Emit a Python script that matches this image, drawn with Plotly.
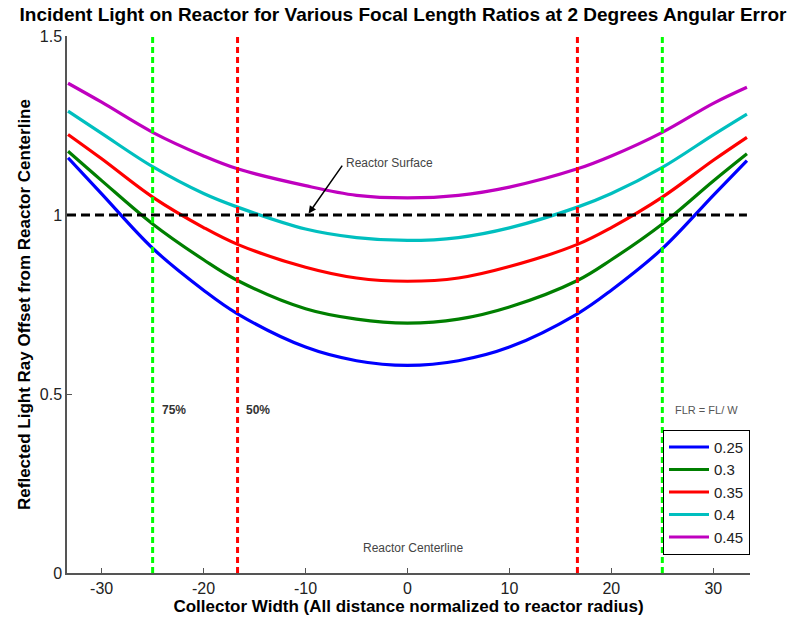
import plotly.graph_objects as go

x_pos = [-33.3, -30, -25, -20, -16.67, -10, -5, 0, 5, 10, 16.67, 20, 25, 30, 33.3]
flr_labels = ["0.25", "0.3", "0.35", "0.4", "0.45"]
y_025 = [1.160, 1.059, 0.907, 0.790, 0.724, 0.631, 0.593, 0.580, 0.593, 0.631, 0.724, 0.790, 0.906, 1.055, 1.152]
y_030 = [1.178, 1.096, 0.975, 0.875, 0.817, 0.738, 0.709, 0.698, 0.709, 0.743, 0.817, 0.875, 0.975, 1.095, 1.171]
y_035 = [1.225, 1.157, 1.050, 0.965, 0.918, 0.854, 0.824, 0.815, 0.824, 0.856, 0.918, 0.965, 1.050, 1.153, 1.217]
y_040 = [1.290, 1.228, 1.135, 1.060, 1.022, 0.961, 0.937, 0.929, 0.937, 0.964, 1.022, 1.060, 1.133, 1.224, 1.282]
y_045 = [1.368, 1.315, 1.231, 1.165, 1.129, 1.082, 1.055, 1.048, 1.055, 1.078, 1.129, 1.165, 1.231, 1.312, 1.357]
series = [y_025, y_030, y_035, y_040, y_045]
colors = ["#0000FF", "#007F00", "#FF0000", "#00BFBF", "#BF00BF"]

x_ticks = [-30, -20, -10, 0, 10, 20, 30]
x_ticktext = ["-30", "-20", "-10", "0", "10", "20", "30"]
y_ticks = [0, 0.5, 1, 1.5]
y_ticktext = ["0", "0.5", "1", "1.5"]

green_lines = [-25, 25]
red_lines = [-16.67, 16.67]
surface_y = 1.0

fig = go.Figure()
for lab, ys, c in zip(flr_labels, series, colors):
    fig.add_trace(go.Scatter(x=x_pos, y=ys, mode="lines", name=lab,
                             line=dict(color=c, width=3.2, shape="spline", smoothing=1.0)))

for xv in green_lines:
    fig.add_shape(type="line", x0=xv, x1=xv, y0=0, y1=1.5, xref="x", yref="y",
                  line=dict(color="#00FF00", width=3, dash="6px,4px"))
for xv in red_lines:
    fig.add_shape(type="line", x0=xv, x1=xv, y0=0, y1=1.5, xref="x", yref="y",
                  line=dict(color="#FF0000", width=3, dash="6px,4px"))
fig.add_shape(type="line", x0=-33.4, x1=33.3, y0=surface_y, y1=surface_y, xref="x", yref="y",
              line=dict(color="black", width=3, dash="9px,5px"))

fam = "Arial, Liberation Sans, sans-serif"
fig.add_annotation(x=-24.3, y=0.455, text="<b>75%</b>", showarrow=False, xanchor="left",
                   font=dict(size=12, family=fam, color="#333333"))
fig.add_annotation(x=-16.0, y=0.455, text="<b>50%</b>", showarrow=False, xanchor="left",
                   font=dict(size=12, family=fam, color="#333333"))
fig.add_annotation(x=26.0, y=0.455, text="FLR = FL/ W", showarrow=False, xanchor="left",
                   font=dict(size=11, family=fam, color="#555555"))
fig.add_annotation(x=0.5, y=0.07, text="Reactor Centerline", showarrow=False,
                   font=dict(size=12, family=fam, color="#444444"))
fig.add_annotation(x=-9.7, y=1.004, ax=-6.3, ay=1.142, axref="x", ayref="y",
                   text="", showarrow=True, arrowhead=2, arrowsize=1, arrowwidth=1.5,
                   arrowcolor="black")
fig.add_annotation(x=-6.2, y=1.145, text="Reactor Surface", showarrow=False, xanchor="left",
                   font=dict(size=12, family=fam, color="#444444"))

fig.update_layout(
    width=806, height=620,
    margin=dict(l=67, r=56, t=36, b=47),
    paper_bgcolor="white", plot_bgcolor="white",
    title=dict(text="<b>Incident Light on Reactor for Various Focal Length Ratios at 2 Degrees Angular Error</b>",
               x=0.5, xanchor="center", y=0.977, yanchor="middle",
               font=dict(size=19, family=fam, color="black")),
    font=dict(family=fam, color="#222222"),
    legend=dict(x=1.0, xanchor="right", y=0.034, yanchor="bottom",
                bgcolor="white", bordercolor="black", borderwidth=1,
                font=dict(size=15, color="#222222"), itemwidth=40, tracegroupgap=0),
    showlegend=True,
)
fig.update_xaxes(range=[-33.4, 33.6], tickvals=x_ticks, ticktext=x_ticktext,
                 ticks="inside", ticklen=5, tickcolor="#555555", showline=True,
                 linecolor="#555555", linewidth=1.5, showgrid=False, zeroline=False,
                 automargin=False,
                 tickfont=dict(size=16, color="#222222"),
                 title=dict(text="<b>Collector Width (All distance normalized to reactor radius)</b>",
                            font=dict(size=17, color="black"), standoff=2))
fig.update_yaxes(range=[0, 1.5], tickvals=y_ticks, ticktext=y_ticktext,
                 ticks="inside", ticklen=5, tickcolor="#555555", showline=True,
                 linecolor="#555555", linewidth=1.5, showgrid=False, zeroline=False,
                 automargin=False,
                 tickfont=dict(size=16, color="#222222"),
                 title=dict(text="<b>Reflected Light Ray Offset from Reactor Centerline</b>",
                            font=dict(size=17, color="black"), standoff=5))

fig.write_html("out.html", config={"displayModeBar": False},
               post_script="document.body.style.margin='0px';")
